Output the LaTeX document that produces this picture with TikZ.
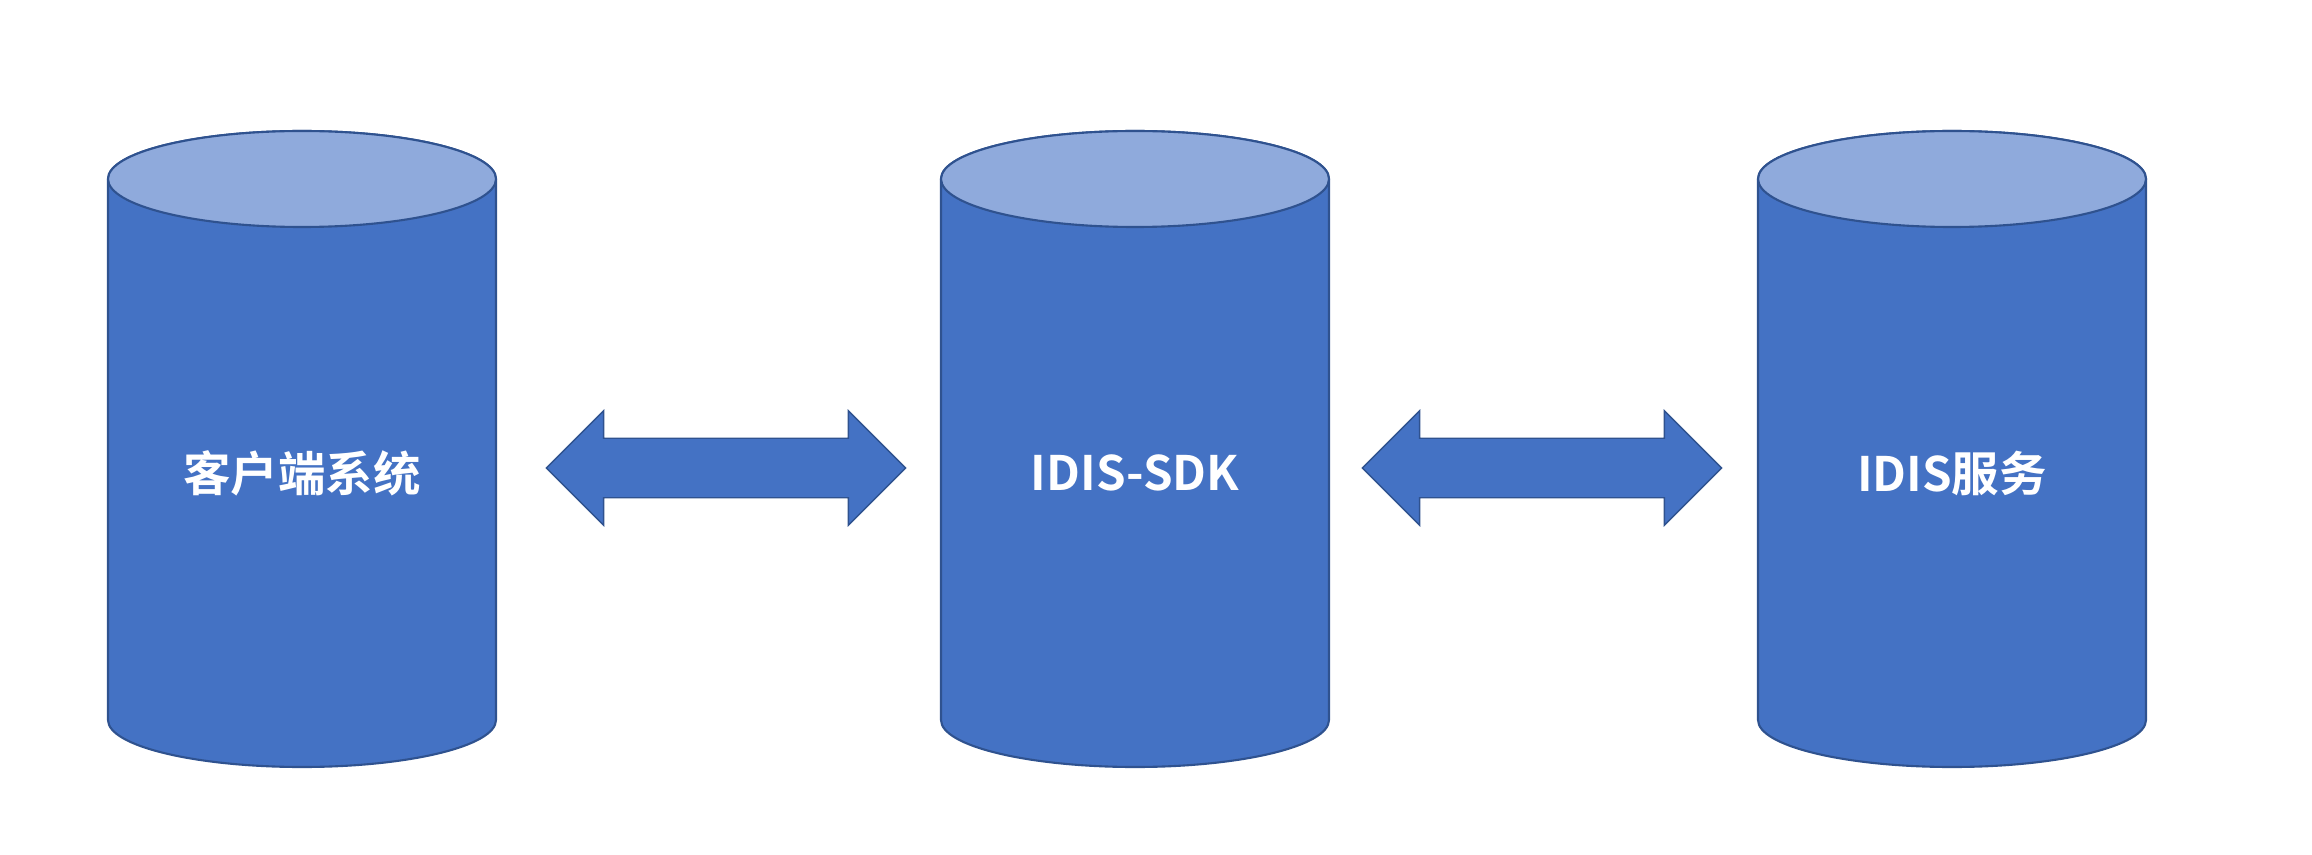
\documentclass[tikz,border=0pt]{standalone}
\usepackage{fontspec}
\newfontfamily\cjk{Noto Sans CJK SC}[BoldFont={Noto Sans CJK SC Bold}]
\usetikzlibrary{shapes.arrows}
\definecolor{drumbody}{RGB}{68,114,196}
\definecolor{drumlid}{RGB}{143,170,220}
\definecolor{rim}{RGB}{47,82,143}

\begin{document}
\begin{tikzpicture}[x=0.01cm,y=0.01cm,
        tag/.style={text=white,font=\cjk\bfseries\fontsize{13.5pt}{16pt}\selectfont,inner sep=0},
        biarrow/.style={double arrow,fill=drumbody,draw=rim,line width=0.4pt,
            inner xsep=0,inner ysep=0.29cm,
            minimum height=3.59cm,minimum width=1.13cm,double arrow head extend=0.275cm}]
    \useasboundingbox (0,0) rectangle (2312,854);

    % drums with their names
    \foreach \n/\x/\t in {cli/302/客户端系统, sdk/1135/IDIS-SDK, srv/1952/IDIS服务} {
        \fill[drumbody,draw=rim,line width=0.6pt] (\x-194,675) -- (\x-194,134)
            arc[start angle=180,end angle=360,x radius=194,y radius=47]
            -- (\x+194,675)
            arc[start angle=0,end angle=180,x radius=194,y radius=48] -- cycle;
        \fill[drumlid,draw=rim,line width=0.6pt] (\x,675) ellipse [x radius=194,y radius=48];
        \node[tag] (\n) at (\x,381) {\t};
    }

    % two-way arrows
    \node[biarrow] (a1) at (726,386) {};
    \node[biarrow] (a2) at (1542,386) {};
\end{tikzpicture}
\end{document}
